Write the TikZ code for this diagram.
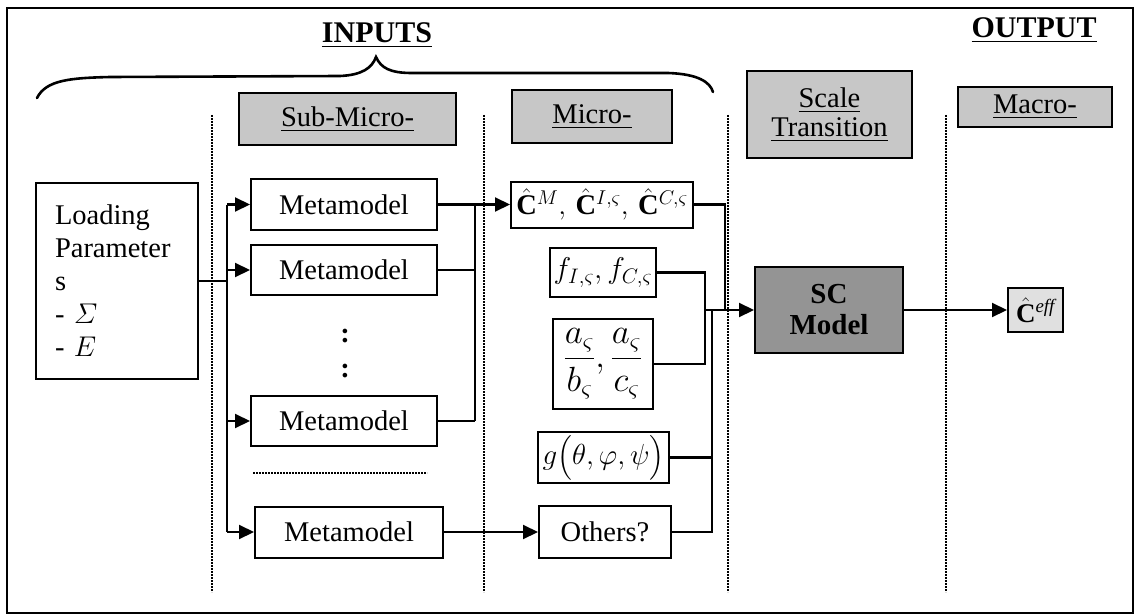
\RequirePackage{fix-cm}
\documentclass[tikz,border=0pt]{standalone}
\usepackage{amsmath}
\usepackage{fontspec}
\setmainfont{Liberation Serif}
\usetikzlibrary{arrows.meta}
\tikzset{
  box/.style={draw, line width=2pt, rectangle, inner sep=0pt, font=\fontsize{28.5}{33}\selectfont, align=center},
  hdr/.style={box, fill=black!22},
  conn/.style={line width=2.1pt},
  arr/.style={conn, -{Triangle[length=15pt,width=14pt]}},
  sep/.style={line width=2.6pt, dash pattern=on 2pt off 1pt},
  title/.style={font=\fontsize{30}{32}\selectfont\bfseries, anchor=base, inner sep=0pt},
}
\begin{document}
\begin{tikzpicture}[x=1pt,y=-1pt]
\useasboundingbox (0,0) rectangle (1138,615);
% frame
\draw[line width=2.2pt] (7,8) rectangle (1133,613);
% titles
\node[title] (inputs) at (377,43) {\underline{INPUTS}};
\node[title] (output) at (1034,38) {\underline{OUTPUT}};
% brace
\draw[line width=2.6pt, line cap=round] (37,98) .. controls (46,80) and (70,78) .. (110,77)
  -- (340,76) .. controls (362,75) and (372,68) .. (376,57)
  .. controls (381,68) and (390,73) .. (412,73)
  -- (668,73) .. controls (698,74) and (710,82) .. (713,92);
% column headers
\node[hdr, minimum width=217pt, minimum height=52pt] (hsub) at (347.5,119) {\underline{Sub-Micro-}};
\node[hdr, minimum width=160pt, minimum height=53pt] (hmic) at (592,116.5) {\underline{Micro-}};
\node[hdr, minimum width=165pt, minimum height=87pt] (hst) at (829.5,114.5) {\underline{Scale}\\[-4pt]\underline{Transition}};
\node[hdr, minimum width=154pt, minimum height=40pt] (hmac) at (1035,107) {\underline{Macro-}};
% separators
\foreach \sx in {212,484,728,946} \draw[sep] (\sx,115) -- (\sx,592);
\draw[sep] (253,473) -- (427,473);
% loading parameters
\node[box, minimum width=162pt, minimum height=196pt, text width=124pt, align=left] (load) at (117,281)
  {Loading\\Parameter\\s\\- $\mathnormal{\Sigma}$\\- $E$};
% metamodels
\node[box, minimum width=186pt, minimum height=51pt] (mm1) at (344,204.5) {Metamodel};
\node[box, minimum width=186pt, minimum height=50pt] (mm2) at (344,270) {Metamodel};
\node[box, minimum width=186pt, minimum height=50pt] (mm3) at (344,421) {Metamodel};
\node[box, minimum width=188pt, minimum height=51pt] (mm4) at (349,532) {Metamodel};
\node[font=\fontsize{28.5}{33}\selectfont\bfseries, inner sep=0pt] (dots1) at (345,336) {:};
\node[font=\fontsize{28.5}{33}\selectfont\bfseries, inner sep=0pt] (dots2) at (345,371) {:};
% micro quantities
\node[box, minimum width=182pt, minimum height=46pt] (cbox) at (602,204.5)
  {$\hat{\mathbf C}^{M},\,\hat{\mathbf C}^{I,\varsigma},\,\hat{\mathbf C}^{C,\varsigma}$};
\node[box, minimum width=106pt, minimum height=49pt, font=\fontsize{30}{33}\selectfont] (fbox) at (603,272.5)
  {$f_{I,\varsigma}, f_{C,\varsigma}$};
\node[box, minimum width=100pt, minimum height=90pt, font=\fontsize{35}{38}\selectfont] (abbox) at (603,364)
  {$\dfrac{a_\varsigma}{b_\varsigma},\dfrac{a_\varsigma}{c_\varsigma}$};
\node[box, minimum width=131pt, minimum height=51pt, font=\fontsize{29}{33}\selectfont] (gbox) at (603.5,457.5)
  {$g\bigl(\theta,\varphi,\psi\bigr)$};
\node[box, minimum width=132pt, minimum height=52pt] (obox) at (605,532) {Others?};
% scale transition and output
\node[box, fill=black!42, minimum width=148pt, minimum height=86pt, font=\fontsize{29}{31}\selectfont\bfseries] (sc) at (829,310) {SC\\Model};
\node[box, fill=black!12, minimum width=55pt, minimum height=44pt, font=\fontsize{27}{33}\selectfont] (ceff) at (1035.5,310) {$\hat{\mathbf C}^{\mathit{eff}}$};
% junction coordinates
\coordinate (trunk) at (227,281);
\coordinate (col) at (475,0);
\coordinate (xc) at (725,0);
\coordinate (xf) at (705,0);
\coordinate (xg) at (712,0);
% connectors: loading to metamodels
\draw[conn] (load.east |- trunk) -- (trunk);
\draw[conn] (mm1.west -| trunk) -- (mm4.west -| trunk);
\draw[arr] (mm1.west -| trunk) -- (mm1.west);
\draw[arr] (mm2.west -| trunk) -- (mm2.west);
\draw[arr] (mm3.west -| trunk) -- (mm3.west);
\draw[arr] (mm4.west -| trunk) -- (mm4.west);
% metamodels to micro
\draw[arr] (mm1.east) -- (cbox.west);
\draw[conn] (mm2.east) -- (mm2.east -| col);
\draw[conn] (mm3.east) -- (mm3.east -| col);
\draw[conn] (mm1.east -| col) -- (mm3.east -| col);
\draw[arr] (mm4.east) -- (obox.west);
% micro to SC model
\draw[conn] (cbox.east) -- (cbox.east -| xc) -- (sc.west -| xc);
\draw[conn] (fbox.east) -- (fbox.east -| xf) -- (abbox.east -| xf) -- (abbox.east);
\draw[conn] (gbox.east) -- (gbox.east -| xg) -- (obox.east -| xg) -- (obox.east);
\draw[conn] (gbox.east -| xg) -- (sc.west -| xg);
\draw[arr] (sc.west -| xf) -- (sc.west);
\draw[arr] (sc.east) -- (ceff.west);
\end{tikzpicture}
\end{document}
